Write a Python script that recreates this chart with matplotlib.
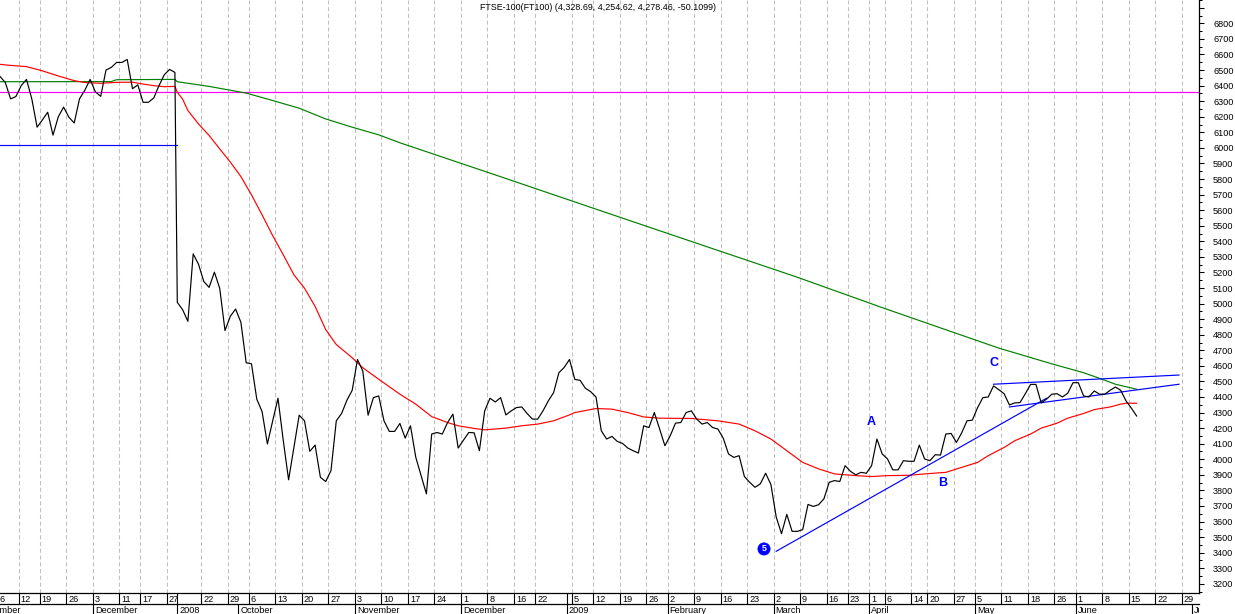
import numpy as np
import matplotlib
matplotlib.use("Agg")
import matplotlib.pyplot as plt
from matplotlib.transforms import offset_copy

plt.rcParams['font.family'] = ['Liberation Sans', 'DejaVu Sans']

TITLE = "FTSE-100(FT100) (4,328.69, 4,254.62, 4,278.46, -50.1099)"

# ---------------- data ----------------
# x axis = trading-session index. Post-break sessions (Sep 2008 - Jun 2009) are 0, 1, 2 ...
# pre-break sessions (Nov-Dec 2007) are counted backwards from the break (j = sessions before break)
GAP = 0.45  # visual spacing of the data break, in sessions

pre_j = list(range(34, -1, -1))
pre_close = [6475, 6459, 6420, 6315, 6330, 6400, 6440, 6315, 6133, 6180,
             6229, 6082, 6200, 6262, 6197, 6160, 6315, 6370, 6440, 6360,
             6331, 6500, 6517, 6549, 6549, 6568, 6380, 6405, 6293, 6293,
             6320, 6400, 6470, 6504, 6485]

pre_ma_red_j = [34, 31, 28, 25, 22, 19, 17, 14, 11, 8, 6, 4, 2, 0]
pre_ma_red = [6540, 6530, 6522, 6495, 6462, 6432, 6420, 6415, 6421, 6422, 6410, 6400, 6393, 6395]
pre_ma_green_j = [34, 12, 11, 0]
pre_ma_green = [6425, 6426, 6438, 6440]

post_close = [5008, 4961, 4886, 5319, 5253, 5142, 5104, 5202, 5099, 4827,
              4918, 4965, 4880, 4620, 4613, 4386, 4306, 4098, 4247, 4392,
              4119, 3868, 4076, 4283, 4247, 4051, 4091, 3884, 3857, 3927,
              4247, 4294, 4379, 4443, 4641, 4567, 4283, 4396, 4407, 4247,
              4179, 4179, 4230, 4136, 4215, 4012, 3895, 3778, 4162, 4172,
              4162, 4236, 4290, 4072, 4123, 4172, 4170, 4055, 4311, 4392,
              4368, 4396, 4285, 4311, 4332, 4336, 4294, 4258, 4258, 4311,
              4375, 4428, 4556, 4590, 4641, 4513, 4507, 4456, 4434, 4400,
              4183, 4130, 4147, 4115, 4102, 4072, 4055, 4040, 4215, 4204,
              4300, 4195, 4087, 4151, 4232, 4236, 4300, 4311, 4258, 4226,
              4236, 4204, 4194, 4136, 4034, 4012, 4023, 3889, 3852, 3820,
              3842, 3910, 3838, 3629, 3522, 3646, 3537, 3537, 3548, 3710,
              3697, 3708, 3746, 3852, 3863, 3857, 3959, 3923, 3900, 3916,
              3910, 3959, 4130, 4034, 4002, 3932, 3932, 3991, 3987, 3987,
              4091, 4002, 3991, 4029, 4027, 4162, 4166, 4108, 4170, 4247,
              4251, 4332, 4396, 4400, 4471, 4447, 4421, 4349, 4362, 4364,
              4421, 4481, 4481, 4362, 4386, 4418, 4421, 4400, 4424, 4492,
              4492, 4407, 4400, 4439, 4418, 4418, 4443, 4464, 4443, 4375,
              4329, 4278]

post_ma_red_day = [0, 1, 2, 4, 6, 8, 10, 12, 14, 16, 18, 20, 22, 24, 26, 28, 30, 33, 35, 38,
                   42, 45, 48, 51, 53, 56, 58, 62, 65, 68, 71, 74, 75, 79, 82, 85, 88, 91, 97, 102,
                   106, 109, 112, 115, 118, 121, 124, 128, 131, 134, 138, 141, 145, 148, 151, 153,
                   156, 158, 161, 163, 166, 168, 171, 173, 176, 178, 179, 181]
post_ma_red = [6357, 6314, 6240, 6154, 6080, 5994, 5909, 5816, 5698, 5570, 5436, 5313, 5185, 5099,
               4982, 4833, 4737, 4652, 4588, 4514, 4418, 4354, 4274, 4236, 4215, 4198, 4189, 4200,
               4215, 4226, 4247, 4285, 4300, 4326, 4322, 4300, 4272, 4264, 4262, 4247, 4226, 4183,
               4130, 4055, 3980, 3938, 3906, 3895, 3889, 3895, 3897, 3906, 3916, 3948, 3980, 4023,
               4076, 4119, 4162, 4200, 4232, 4264, 4294, 4319, 4336, 4354, 4360, 4360]

post_ma_green_day = [0, 6, 13, 17, 23, 28, 33, 38, 42, 61, 80, 99, 117, 133, 145, 155, 165, 171,
                     174, 177, 181]
post_ma_green = [6425, 6395, 6352, 6314, 6255, 6186, 6133, 6084, 6033, 5815, 5595, 5376, 5169,
                 4974, 4832, 4714, 4613, 4556, 4520, 4482, 4450]

# horizontal reference levels
level_magenta = 6357
level_pre_blue = 6017

# trend lines: (day0, value0, day1, value1)
trend_lines = [(113, 3409, 164, 4392),
               (157, 4336, 189, 4482),
               (154, 4482, 189, 4541)]

# wave labels
wave_labels = ["A", "B", "C"]
wave_day = [131, 144.5, 154]
wave_val = [4240, 3846, 4616]
wave5_day, wave5_val = 110.7, 3424

# week ticks
pre_tick_j = [33, 29, 25, 20, 15, 10, 6, 1]
pre_tick_labels = ["6", "12", "19", "26", "3", "11", "17", "27"]
post_tick_day = [5, 10, 14, 19, 24, 29, 34, 39, 44, 49, 54, 59, 64, 68, 75, 79, 84, 89, 93, 98,
                 103, 108, 113, 118, 123, 127, 131, 134, 139, 142, 147, 151, 156, 161, 166, 170,
                 175, 180, 185, 190]
post_tick_labels = ["22", "29", "6", "13", "20", "27", "3", "10", "17", "24",
                    "1", "8", "16", "22", "5", "12", "19", "26", "2", "9",
                    "16", "23", "2", "9", "16", "23", "1", "6", "14", "20",
                    "27", "5", "11", "18", "26", "1", "8", "15", "22", "29"]

# month starts
pre_month_j = [37, 15]
pre_month_labels = ["November", "December"]
post_month_day = [0, 12, 34, 54, 74, 93, 113, 131, 151, 170, 192]
post_month_labels = ["2008", "October", "November", "December", "2009", "February", "March",
                     "April", "May", "June", "July"]
year_start_day = [0, 74]

# ---------------- layout ----------------
W, H = 1235, 614
PLOT_BOTTOM = 21      # px from figure bottom
ROW_H = 10.5          # px height of each date row
XLIM = (-33.45, 192.77)
YLIM = (3141, 6932)
FS = 6.6


def pre_x(j):
    return -j - GAP


def sep_x(d):
    # separator before session d; the first session after the break gets its line at the break
    return d - 0.5 if d > 0 else 0


fig = plt.figure(figsize=(W / 100, H / 100), dpi=100)
fig.patch.set_facecolor("white")
ax = fig.add_axes([0, PLOT_BOTTOM / H, 1199 / W, (H - PLOT_BOTTOM) / H])
ax.set_xlim(*XLIM)
ax.set_ylim(*YLIM)

x_close = [pre_x(j) for j in pre_j] + list(range(len(post_close)))
y_close = pre_close + post_close
x_red = [pre_x(j) for j in pre_ma_red_j] + post_ma_red_day
y_red = pre_ma_red + post_ma_red
x_green = [pre_x(j) for j in pre_ma_green_j] + post_ma_green_day
y_green = pre_ma_green + post_ma_green

tick_x = [pre_x(j) - 0.5 for j in pre_tick_j] + [sep_x(d) for d in post_tick_day]
tick_lab = pre_tick_labels + post_tick_labels
month_x = [pre_x(j) - 0.5 for j in pre_month_j] + [sep_x(d) for d in post_month_day]
month_lab = pre_month_labels + post_month_labels

for gx in tick_x:
    ax.axvline(gx, color="#c0c0c0", lw=0.75, linestyle=(0, (4, 2.5)), zorder=0)

LW = 0.85
ax.axhline(level_magenta, color="#ff00ff", lw=LW, zorder=2)
ax.plot([XLIM[0] - 5, 0], [level_pre_blue, level_pre_blue], color="#0000ff", lw=LW, zorder=2)
ax.plot(x_green, y_green, color="#008000", lw=LW, zorder=3)
ax.plot(x_red, y_red, color="#ff0000", lw=LW, zorder=3)
for (d0, v0, d1, v1) in trend_lines:
    ax.plot([d0, d1], [v0, v1], color="#0000ff", lw=LW, zorder=4)
ax.plot(x_close, y_close, color="black", lw=LW, zorder=5)

for lab, d, v in zip(wave_labels, wave_day, wave_val):
    ax.text(d, v, lab, color="#0000ff", fontsize=9, fontweight="bold", ha="center", va="center",
            zorder=6)
ax.text(wave5_day, wave5_val, "5", color="white", fontsize=6.5, fontweight="bold",
        ha="center", va="center", zorder=6,
        bbox=dict(boxstyle="circle,pad=0.18", fc="#0000ff", ec="#0000ff", lw=0.5))

# right price axis
for s in ["left", "top"]:
    ax.spines[s].set_visible(False)
ax.spines["right"].set_linewidth(0.9)
ax.spines["bottom"].set_linewidth(0.9)
ax.set_xticks([])
ax.yaxis.tick_right()
major = np.arange(3200, 6901, 100)
ax.set_yticks(major)
ax.set_yticklabels([str(v) if v <= 6800 else "" for v in major])
ax.set_yticks(np.arange(3150, 6951, 50), minor=True)
ax.tick_params(axis="y", which="major", length=3.8, width=0.75, pad=6.3, labelsize=FS,
               direction="out", colors="black")
ax.tick_params(axis="y", which="minor", length=2.2, width=0.75, direction="out")

fig.text(598 / W, 1 - 7 / H, TITLE, ha="center", va="center", fontsize=6.4)

# date rows
axd = fig.add_axes([0, ROW_H / H, 1199 / W, ROW_H / H])
axm = fig.add_axes([0, 0, 1199 / W, ROW_H / H])
for a in (axd, axm):
    a.set_xlim(*XLIM)
    a.set_ylim(0, 1)
    a.set_xticks([])
    a.set_yticks([])
    for s in ["left", "right", "top"]:
        a.spines[s].set_visible(False)
    a.patch.set_alpha(0)
axd.spines["bottom"].set_linewidth(0.9)
axm.spines["bottom"].set_visible(False)

txd = offset_copy(axd.transData, fig=fig, x=2, y=0, units="dots")
for gx, lab in zip(tick_x, tick_lab):
    axd.vlines(gx, 0, 1, color="black", lw=0.8)
    axd.text(gx, 0.42, lab, transform=txd, ha="left", va="center", fontsize=FS, clip_on=True)
for d in year_start_day:
    axd.vlines(sep_x(d), 0, 1, color="black", lw=0.8)

txm = offset_copy(axm.transData, fig=fig, x=2, y=0, units="dots")
for gx, lab in zip(month_x, month_lab):
    axm.vlines(gx, 0, 1, color="black", lw=0.8)
    axm.text(gx, 0.35, lab, transform=txm, ha="left", va="center", fontsize=FS, clip_on=True)

fig.savefig("out.png", dpi=100, facecolor="white")
